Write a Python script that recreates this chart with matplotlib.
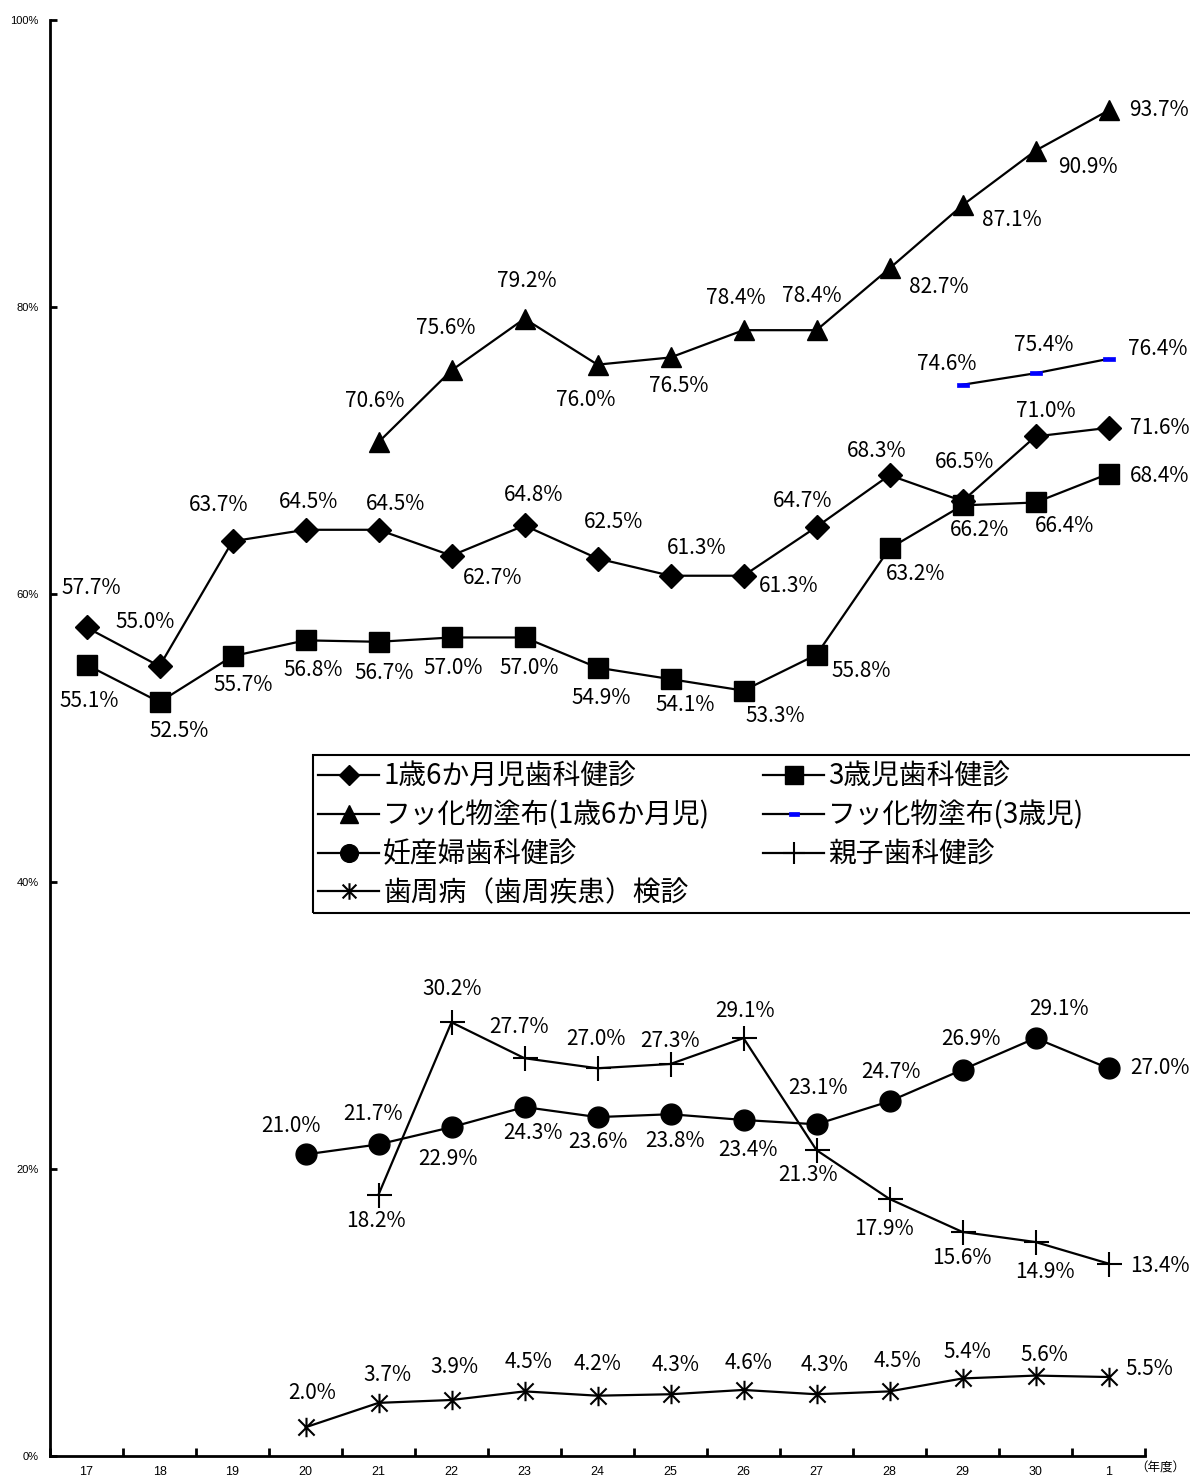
import matplotlib.pyplot as plt
import matplotlib.patches as patches
from matplotlib.path import Path
import numpy as np

plt.rcParams['font.family'] = ['Noto Sans CJK JP', 'DejaVu Sans']

years = ['17', '18', '19', '20', '21', '22', '23', '24', '25', '26', '27', '28', '29', '30', '1']

names = ['1歳6か月児歯科健診', '3歳児歯科健診', 'フッ化物塗布(1歳6か月児)', 'フッ化物塗布(3歳児)',
         '妊産婦歯科健診', '親子歯科健診', '歯周病（歯周疾患）検診']

infant = [57.7, 55.0, 63.7, 64.5, 64.5, 62.7, 64.8, 62.5, 61.3, 61.3, 64.7, 68.3, 66.5, 71.0, 71.6]
age3 = [55.1, 52.5, 55.7, 56.8, 56.7, 57.0, 57.0, 54.9, 54.1, 53.3, 55.8, 63.2, 66.2, 66.4, 68.4]
fluor_infant = [70.6, 75.6, 79.2, 76.0, 76.5, 78.4, 78.4, 82.7, 87.1, 90.9, 93.7]   # from 21
fluor_age3 = [74.6, 75.4, 76.4]                                                    # from 29
pregnant = [21.0, 21.7, 22.9, 24.3, 23.6, 23.8, 23.4, 23.1, 24.7, 26.9, 29.1, 27.0]  # from 20
parent = [18.2, 30.2, 27.7, 27.0, 27.3, 29.1, 21.3, 17.9, 15.6, 14.9, 13.4]          # from 21
perio = [2.0, 3.7, 3.9, 4.5, 4.2, 4.3, 4.6, 4.3, 4.5, 5.4, 5.6, 5.5]                # from 20

# label offsets in pixels (dx, dy down)
off_infant = [(5, -39), (-14, -44), (-14, -36), (3, -28), (17, -26), (41, 22), (9, -30), (16, -36),
              (26, -28), (45, 10), (-14, -26), (-13, -24), (2, -39), (10, -25), (51, 0)]
off_age3 = [(3, 36), (20, 29), (11, 29), (8, 30), (6, 31), (2, 31), (5, 31), (4, 30), (15, 26),
            (32, 25), (45, 16), (26, 26), (17, 25), (29, 24), (51, 2)]
off_fi = [(-4, -41), (-6, -42), (2, -38), (-12, 35), (8, 29), (-8, -32), (-5, -34), (49, 19),
          (49, 15), (52, 16), (51, 0)]
off_f3 = [(-16, -21), (8, -28), (49, -10)]
off_preg = [(-15, -28), (-5, -30), (-4, 32), (8, 26), (0, 25), (5, 27), (4, 30), (2, -36),
            (1, -29), (8, -31), (24, -29), (51, 0)]
off_parent = [(-3, 26), (1, -33), (-5, -31), (-2, -29), (0, -23), (2, -27), (-8, 25), (-5, 30),
              (-1, 26), (9, 30), (51, 2)]
off_perio = [(7, -34), (9, -28), (3, -33), (4, -29), (0, -32), (5, -29), (5, -27), (8, -29),
             (8, -30), (5, -26), (9, -21), (41, -8)]

star = Path([(-1, -1), (1, 1), (-1, 1), (1, -1), (0, -1.2), (0, 1.2)],
            [Path.MOVETO, Path.LINETO, Path.MOVETO, Path.LINETO, Path.MOVETO, Path.LINETO])
blue_dash = Path([(-1, -0.35), (1, -0.35), (1, 0.35), (-1, 0.35), (-1, -0.35)],
                 [Path.MOVETO, Path.LINETO, Path.LINETO, Path.LINETO, Path.CLOSEPOLY])

fig = plt.figure(figsize=(11.9, 14.81), dpi=100)
ax = fig.add_axes([50 / 1190, 25 / 1481, (1145 - 50) / 1190, (1456 - 20) / 1481])

x = np.arange(len(years))
series = [
    (x, infant, dict(marker='D', ms=12, mfc='black', mec='black'), off_infant),
    (x, age3, dict(marker='s', ms=15, mfc='black', mec='black'), off_age3),
    (x[4:], fluor_infant, dict(marker='^', ms=15, mfc='black', mec='black'), off_fi),
    (x[12:], fluor_age3, dict(marker=blue_dash, ms=8, mfc='#0000ff', mec='#0000ff', mew=0.5), off_f3),
    (x[3:], pregnant, dict(marker='o', ms=15, mfc='black', mec='black'), off_preg),
    (x[4:], parent, dict(marker='+', ms=18, mec='black', mew=1.5), off_parent),
    (x[3:], perio, dict(marker=star, ms=14, mec='black', mew=1.5, mfc='none'), off_perio),
]

handles = []
for (xs, ys, st, offs), name in zip(series, names):
    h, = ax.plot(xs, ys, color='black', lw=1.6, label=name, **st)
    handles.append(h)
    for xi, yi, (dx, dy) in zip(xs, ys, offs):
        ax.annotate(f'{yi:.1f}%', (xi, yi), xytext=(dx, -dy), textcoords='offset pixels',
                    ha='center', va='center', fontsize=15)

ax.set_xlim(-0.5, len(years) - 0.5)
ax.set_ylim(0, 100)
for s in ['top', 'right']:
    ax.spines[s].set_visible(False)
for s in ['left', 'bottom']:
    ax.spines[s].set_linewidth(2)

ax.set_xticks(np.arange(-0.5, len(years), 1.0))
ax.set_xticklabels([])
ax.set_xticks(x, minor=True)
ax.set_xticklabels(years, minor=True, fontsize=9, family='Liberation Sans')
ax.tick_params(axis='x', which='major', direction='in', length=6, width=2)
ax.tick_params(axis='x', which='minor', length=0, pad=7)
ax.set_yticks(np.arange(0, 101, 20))
ax.set_yticklabels([f'{v}%' for v in range(0, 101, 20)], fontsize=8, family='Liberation Sans')
ax.tick_params(axis='y', direction='in', length=5, width=2, pad=8)

fig.text(1160 / 1190, 1 - 1468 / 1481, '（年度）', fontsize=9, ha='center', va='center')

# legend: row-major order in 2 columns
order = [0, 2, 4, 6, 1, 3, 5]
fig.patches.append(patches.Rectangle((313 / 1190, 1 - 913 / 1481), 900 / 1190, 158 / 1481,
                                     transform=fig.transFigure, fill=False, lw=1.5, ec='black'))
fig.legend([handles[i] for i in order], [names[i] for i in order],
           loc='upper left', bbox_to_anchor=(318 / 1190, 1 - 762 / 1481), ncol=2, frameon=False,
           fontsize=20, handlelength=2.2, handletextpad=0.15, columnspacing=1.9, labelspacing=0.31,
           markerscale=0.85, borderpad=0, borderaxespad=0)

fig.savefig('out.png', dpi=100)
